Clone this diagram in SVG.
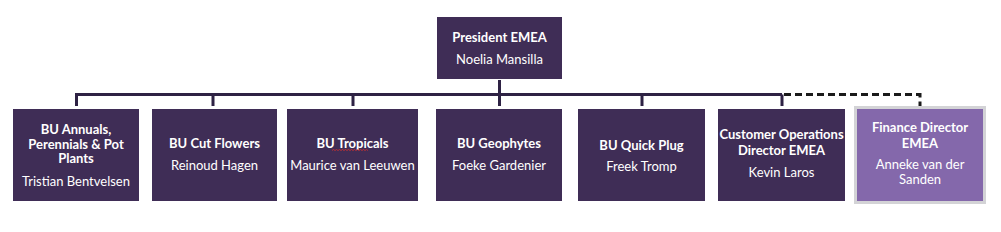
<svg xmlns="http://www.w3.org/2000/svg" width="1001" height="232" viewBox="0 0 1001 232">
<style>
.box{fill:#3f2d56;}
.fin{fill:#8468ab;stroke:#d3d3d6;stroke-width:3;}
.t{font-family:Lato,"Liberation Sans",sans-serif;font-size:13px;fill:#ffffff;text-anchor:middle;}
.b{font-weight:bold;}
.ln{stroke:#2e2244;stroke-width:3;fill:none;}
.dash{stroke:#1a1a1a;stroke-width:3;fill:none;stroke-dasharray:7,4;}
</style>
<rect width="1001" height="232" fill="#ffffff"/>
<g id="connectors">
<path class="ln" d="M499.5,80 V106 M76.5,94.5 H782 M76.5,93 V106 M213,94.5 V106 M353,94.5 V106 M642,94.5 V106 M782,94.5 V106"/>
<path class="dash" d="M784,94.5 H920 V106"/>
</g>
<g id="president">
<rect class="box" x="437" y="17" width="125" height="62"/>
<text class="t b" x="499.5" y="42">President EMEA</text>
<text class="t" x="499.5" y="64">Noelia Mansilla</text>
</g>
<g id="bu-annuals">
<rect class="box" x="13" y="109" width="126" height="92"/>
<text class="t b" x="76" y="134">BU Annuals,</text>
<text class="t b" x="76" y="148.5">Perennials &amp; Pot</text>
<text class="t b" x="76" y="163">Plants</text>
<text class="t" x="76" y="186">Tristian Bentvelsen</text>
</g>
<g id="bu-cut-flowers">
<rect class="box" x="152" y="109" width="125" height="92"/>
<text class="t b" x="214.5" y="148">BU Cut Flowers</text>
<text class="t" x="214.5" y="170">Reinoud Hagen</text>
</g>
<g id="bu-tropicals">
<rect class="box" x="287" y="109" width="131" height="92"/>
<text class="t b" x="352.5" y="148">BU Tropicals</text>
<path d="M332,150.5 l1.5,-1 l1.5,1 l1.5,-1 l1.5,1 l1.5,-1 l1.5,1 l1.5,-1 l1.5,1 l1.5,-1 l1.5,1 l1.5,-1 l1.5,1 l1.5,-1 l1.5,1 l1.5,-1 l1.5,1 l1.5,-1 l1.5,1 l1.5,-1 l1.5,1 l1.5,-1 l1.5,1 l1.5,-1 l1.5,1" stroke="#d03030" stroke-width="0.8" fill="none"/>
<text class="t" x="352.5" y="170">Maurice van Leeuwen</text>
</g>
<g id="bu-geophytes">
<rect class="box" x="436" y="109" width="126" height="92"/>
<text class="t b" x="499" y="148">BU Geophytes</text>
<text class="t" x="499" y="170">Foeke Gardenier</text>
</g>
<g id="bu-quick-plug">
<rect class="box" x="578" y="109" width="127" height="92"/>
<text class="t b" x="641.5" y="150">BU Quick Plug</text>
<text class="t" x="641.5" y="171">Freek Tromp</text>
</g>
<g id="customer-ops">
<rect class="box" x="718" y="109" width="127" height="92"/>
<text class="t b" x="781.5" y="139">Customer Operations</text>
<text class="t b" x="781.5" y="155">Director EMEA</text>
<text class="t" x="781.5" y="177">Kevin Laros</text>
</g>
<g id="finance-director">
<rect class="fin" x="855.5" y="107.5" width="129" height="95"/>
<text class="t b" x="920" y="132">Finance Director</text>
<text class="t b" x="920" y="148">EMEA</text>
<text class="t" x="920" y="169">Anneke van der</text>
<text class="t" x="920" y="184">Sanden</text>
</g>
</svg>
